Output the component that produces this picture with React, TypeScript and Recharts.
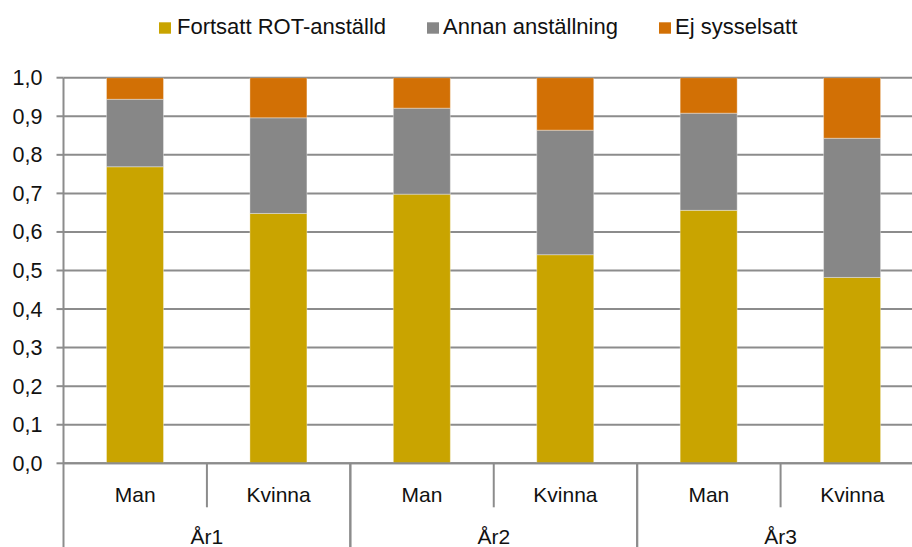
import React from 'react';
import { BarChart, Bar, XAxis, YAxis, CartesianGrid } from 'recharts';

// ---- data ----
const categories = ['Man', 'Kvinna', 'Man', 'Kvinna', 'Man', 'Kvinna'];
const groups = ['År1', 'År1', 'År2', 'År2', 'År3', 'År3'];
const fortsattRot = [0.769, 0.648, 0.698, 0.541, 0.656, 0.482];
const annanAnstallning = [0.175, 0.248, 0.223, 0.323, 0.252, 0.361];
const ejSysselsatt = [0.056, 0.104, 0.079, 0.136, 0.092, 0.157];
const yTicks = [0, 0.1, 0.2, 0.3, 0.4, 0.5, 0.6, 0.7, 0.8, 0.9, 1.0];
const seriesNames = ['Fortsatt ROT-anställd', 'Annan anställning', 'Ej sysselsatt'];

// ---- style / layout ----
const COLORS = ['#C9A400', '#878787', '#D27005'];
const FONT = '"Liberation Sans", Arial, sans-serif';
const CHART_W = 930;
const CHART_H = 547;
const TOP = 77.7;
const BOTTOM = 463.3;
const LEFT = 63.5;
const RIGHT_MARGIN = 6;
const PLOT_W = CHART_W - RIGHT_MARGIN - LEFT;
const LINE = '#8c8c8c';
const LEGEND_X = [{ sq: 159, tx: 177 }, { sq: 427, tx: 443 }, { sq: 659, tx: 675 }];

const data = categories.map((c, i) => ({
  key: `${groups[i]} ${c}`,
  cat: c,
  group: groups[i],
  fortsatt: fortsattRot[i],
  annan: annanAnstallning[i],
  ej: ejSysselsatt[i],
}));

const band = PLOT_W / data.length;

const XTick = (props: any) => {
  const { x, payload } = props;
  const idx = props.index ?? payload.index;
  const d = data[idx];
  const els: any[] = [];
  els.push(
    <text key="t" x={x} y={BOTTOM + 38.5} textAnchor="middle" fontFamily={FONT} fontSize={21} fill="#111">
      {d.cat}
    </text>
  );
  if (idx % 2 === 0) {
    els.push(<line key="l1" x1={x - band / 2} x2={x - band / 2} y1={BOTTOM} y2={CHART_H} stroke={LINE} strokeWidth={2} />);
    els.push(<line key="l2" x1={x + band / 2} x2={x + band / 2} y1={BOTTOM} y2={BOTTOM + 44} stroke={LINE} strokeWidth={2} />);
  } else {
    els.push(
      <text key="g" x={x - band / 2} y={BOTTOM + 81} textAnchor="middle" fontFamily={FONT} fontSize={21} fill="#111">
        {d.group}
      </text>
    );
    els.push(<line key="l3" x1={x + band / 2} x2={x + band / 2} y1={BOTTOM} y2={CHART_H} stroke={LINE} strokeWidth={2} />);
  }
  return <g>{els}</g>;
};

const YTick = (props: any) => {
  const { x, y, payload } = props;
  return (
    <text x={x} y={y} dy={7.5} textAnchor="end" fontFamily={FONT} fontSize={21.5} fill="#111">
      {Number(payload.value).toFixed(1).replace('.', ',')}
    </text>
  );
};

export default function App() {
  return (
    <div style={{ position: 'absolute', left: 0, top: 0, width: 912, height: 547, overflow: 'hidden', background: '#fff' }}>
      <BarChart
        width={CHART_W}
        height={CHART_H}
        data={data}
        margin={{ top: TOP, right: RIGHT_MARGIN, left: 0, bottom: 0 }}
        barSize={57}
      >
        <CartesianGrid vertical={false} stroke={LINE} strokeWidth={2} strokeDasharray="" />
        <YAxis
          width={LEFT}
          domain={[0, 1]}
          ticks={yTicks}
          interval={0}
          tick={<YTick />}
          axisLine={{ stroke: LINE, strokeWidth: 2 }}
          tickLine={{ stroke: LINE, strokeWidth: 2 }}
          tickSize={7}
          tickMargin={14}
          allowDataOverflow
        />
        <XAxis
          dataKey="key"
          height={CHART_H - BOTTOM}
          interval={0}
          tick={<XTick />}
          axisLine={{ stroke: LINE, strokeWidth: 2 }}
          tickLine={false}
        />
        <Bar dataKey="fortsatt" stackId="a" fill={COLORS[0]} stroke="rgba(255,255,255,0.35)" strokeWidth={1} isAnimationActive={false} />
        <Bar dataKey="annan" stackId="a" fill={COLORS[1]} stroke="rgba(255,255,255,0.35)" strokeWidth={1} isAnimationActive={false} />
        <Bar dataKey="ej" stackId="a" fill={COLORS[2]} stroke="rgba(255,255,255,0.35)" strokeWidth={1} isAnimationActive={false} />
      </BarChart>
      <svg width={912} height={50} style={{ position: 'absolute', left: 0, top: 0 }}>
        {seriesNames.map((n, i) => (
          <g key={n}>
            <rect x={LEGEND_X[i].sq} y={22.3} width={12} height={11.4} fill={COLORS[i]} />
            <text x={LEGEND_X[i].tx} y={34.3} fontFamily={FONT} fontSize={22} fill="#111">
              {n}
            </text>
          </g>
        ))}
      </svg>
    </div>
  );
}
